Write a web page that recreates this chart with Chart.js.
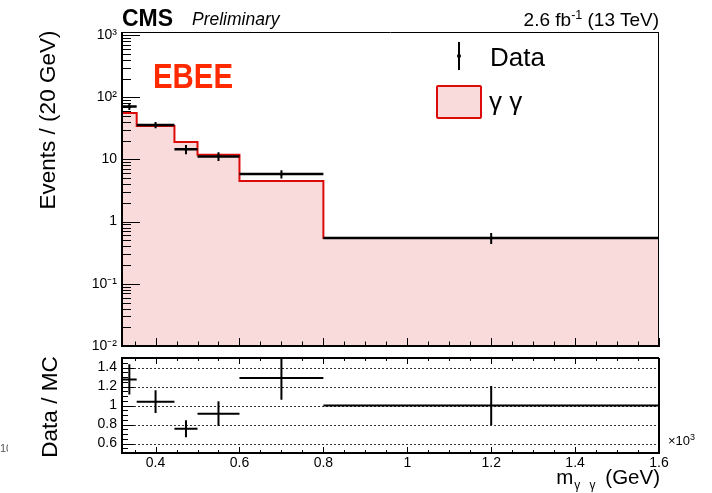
<!DOCTYPE html>
<html>
<head>
<meta charset="utf-8">
<script src="https://cdn.jsdelivr.net/npm/chart.js@4.4.1/dist/chart.umd.min.js"></script>
<style>
  html, body { margin: 0; padding: 0; background: #fff; }
  #wrap { position: relative; width: 712px; height: 493px; overflow: hidden; font-family: "Liberation Sans", Arial, sans-serif; color: #000; }
  canvas { position: absolute; left: 0; }
  .t { position: absolute; white-space: nowrap; line-height: 1; }
  .rot { position: absolute; white-space: nowrap; line-height: 1; transform: translate(-50%, -50%) rotate(-90deg); }
</style>
</head>
<body>
<div id="wrap">
  <canvas id="cMain" width="712" height="356" style="top:0"></canvas>
  <canvas id="cRatio" width="712" height="137" style="top:356px"></canvas>

  <div class="t" style="left:122px; top:7px; font-size:23px; font-weight:bold;">CMS</div>
  <div class="t" style="left:192px; top:11px; font-size:17.5px; font-style:italic;">Preliminary</div>
  <div class="t" style="right:53px; top:10px; font-size:19px;">2.6 fb<span style="font-size:12.5px; position:relative; top:-7px;">-1</span> (13 TeV)</div>

  <div class="t" style="left:153px; top:58px; font-size:35px; font-weight:bold; color:#ff2a00; transform:scaleX(0.84); transform-origin:0 0;">EBEE</div>

  <!-- legend -->
  <div style="position:absolute; left:458px; top:42px; width:2px; height:28px; background:#000;"></div>
  <div style="position:absolute; left:457px; top:54px; width:4px; height:4px; background:#000; border-radius:2px;"></div>
  <div class="t" style="left:490px; top:44px; font-size:26px;">Data</div>
  <div style="position:absolute; left:436px; top:85px; width:42px; height:30px; background:#f9dbdc; border:2px solid #dd0a0a; border-radius:2px;"></div>
  <div class="t" style="left:489px; top:88px; font-size:26px;">γ γ</div>

  <div class="rot" style="left:48px; top:120px; font-size:22.5px;">Events / (20 GeV)</div>
  <div class="rot" style="left:50px; top:407px; font-size:22.5px;">Data / MC</div>

  <div class="t" style="right:52px; top:467px; font-size:20.5px;">m<span style="font-size:12px; position:relative; top:5px; margin-left:1px; word-spacing:6px; margin-right:4px;">γ γ</span> (GeV)</div>
  <div class="t" style="left:668px; top:434px; font-size:13px;">×10<span style="font-size:9px; position:relative; top:-5px;">3</span></div>
  <div style="position:absolute; left:0; top:443px; width:8px; height:12px; overflow:hidden;"><div class="t" style="left:0; top:0; font-size:11px; color:#555;">10</div></div>
</div>

<script>
// ---------------- data ----------------
const binEdges    = [320, 355, 445, 500, 600, 800, 1600];          // GeV
const mcValues    = [56, 34.5, 19.0, 11.9, 4.5, 0.545];           // γγ MC, events / 20 GeV
const dataCenters = [337.5, 400, 472.5, 550, 700, 1200];           // GeV
const dataValues  = [71, 35.8, 14.6, 11.2, 5.82, 0.545];           // events / 20 GeV
const dataErrors  = [8.5, 4.2, 2.5, 1.8, 0.9, 0.11];
const ratioValues = [1.275, 1.04, 0.755, 0.914, 1.29, 1.0];
const ratioErrors = [0.16, 0.12, 0.09, 0.13, 0.23, 0.205];

const mainYTicks       = [0.01, 0.1, 1, 10, 100, 1000];
const mainYTickLabels  = ['10⁻²', '10⁻¹', '1', '10', '10²', '10³'];
const ratioYTicks      = [0.6, 0.8, 1.0, 1.2, 1.4];
const ratioYTickLabels = ['0.6', '0.8', '1', '1.2', '1.4'];
const xTicks           = [400, 600, 800, 1000, 1200, 1400, 1600];
const xTickLabels      = ['0.4', '0.6', '0.8', '1', '1.2', '1.4', '1.6'];

// ---------------- build library structures ----------------
const mcSteps = binEdges.map((e, i) => ({ x: e, y: mcValues[Math.min(i, mcValues.length - 1)] }));

function xErrSegments(vals) {
  const out = [];
  vals.forEach((v, i) => {
    out.push({ x: binEdges[i], y: v }, { x: binEdges[i + 1], y: v }, { x: binEdges[i + 1], y: null });
  });
  return out;
}
function yErrSegments(vals, errs) {
  const out = [];
  vals.forEach((v, i) => {
    out.push({ x: dataCenters[i], y: v - errs[i] }, { x: dataCenters[i], y: v + errs[i] }, { x: dataCenters[i], y: null });
  });
  return out;
}

const xMinor = [];
for (let v = 350; v < 1600; v += 50) if (!xTicks.includes(v)) xMinor.push(v);
const logMinor = [];
for (let e = -2; e <= 2; e++) for (let m = 2; m <= 9; m++) logMinor.push(m * Math.pow(10, e));
const ratioMinor = [];
for (let v = 0.55; v < 1.5; v += 0.05) { const r = Math.round(v * 100) / 100; if (!ratioYTicks.some(t => Math.abs(t - r) < 1e-6)) ratioMinor.push(r); }

// ---------------- ROOT-style frame / ticks plugin ----------------
const rootFrame = {
  id: 'rootFrame',
  beforeDatasetsDraw(chart, args, o) {
    if (!o.grid) return;
    const { ctx, chartArea: a } = chart; const ys = chart.scales.y;
    ctx.save(); ctx.strokeStyle = '#333'; ctx.lineWidth = 1; ctx.setLineDash([2, 2]);
    for (const v of o.grid) {
      const py = Math.round(ys.getPixelForValue(v)) + 0.5;
      ctx.beginPath(); ctx.moveTo(a.left, py); ctx.lineTo(a.right, py); ctx.stroke();
    }
    ctx.restore();
  },
  afterDatasetsDraw(chart, args, o) {
    const { ctx, chartArea: a } = chart; const xs = chart.scales.x, ys = chart.scales.y;
    ctx.save(); ctx.strokeStyle = '#000'; ctx.lineWidth = 1;
    const seg = (x1, y1, x2, y2) => { ctx.beginPath(); ctx.moveTo(x1, y1); ctx.lineTo(x2, y2); ctx.stroke(); };
    for (const [vals, len] of [[o.xMajor, o.xMajorLen], [o.xMinor, o.xMinorLen]]) {
      for (const v of vals) {
        const px = Math.round(xs.getPixelForValue(v)) + 0.5;
        seg(px, a.bottom, px, a.bottom - len);
        if (o.xTop) seg(px, a.top, px, a.top + len);
      }
    }
    for (const [vals, len] of [[o.yMajor, o.yMajorLen], [o.yMinor, o.yMinorLen]]) {
      for (const v of vals) {
        const py = Math.round(ys.getPixelForValue(v)) + 0.5;
        if (py < a.top || py > a.bottom) continue;
        seg(a.left, py, a.left + len, py);
      }
    }
    // frame
    ctx.lineWidth = o.thin ? 1 : 2;
    seg(a.left, a.top + (o.thin ? 0.5 : 0), a.right, a.top + (o.thin ? 0.5 : 0));
    seg(a.right - (o.thin ? 0.5 : 0), a.top, a.right - (o.thin ? 0.5 : 0), a.bottom);
    ctx.lineWidth = 2;
    seg(a.left, a.bottom, a.right + 1, a.bottom);
    seg(a.left, a.top - (o.thin ? 0 : 1), a.left, a.bottom + 1);
    ctx.restore();
  }
};

Chart.defaults.font.family = "'Liberation Sans', Arial, sans-serif";
Chart.defaults.color = '#000';

const tickFont = { family: "'Liberation Sans', Arial, sans-serif", size: 14 };
const fixY = s => { s.width = 122; s.paddingTop = 0; s.paddingBottom = 0; };
const fixX = s => { s.height = 40; s.paddingLeft = 0; s.paddingRight = 0; };

// ---------------- main panel ----------------
new Chart(document.getElementById('cMain'), {
  type: 'line',
  data: {
    datasets: [
      { label: 'γ γ', data: mcSteps, stepped: true, fill: 'start', backgroundColor: '#f9dbdc',
        borderColor: '#dd0a0a', borderWidth: 2, pointRadius: 0, order: 3 },
      { label: 'Data x', data: xErrSegments(dataValues), borderColor: '#000', borderWidth: 2.5,
        pointRadius: 0, spanGaps: false, order: 2 },
      { label: 'Data y', data: yErrSegments(dataValues, dataErrors), borderColor: '#000', borderWidth: 2,
        pointRadius: 0, spanGaps: false, order: 1 },
      { label: 'Data', data: dataCenters.map((c, i) => ({ x: c, y: dataValues[i] })), showLine: false,
        pointRadius: 1.5, pointBackgroundColor: '#000', pointBorderWidth: 0, order: 0 }
    ]
  },
  options: {
    responsive: false, animation: false, devicePixelRatio: 1,
    layout: { padding: { top: 32, right: 53, bottom: 10, left: 0 } },
    plugins: {
      legend: { display: false }, tooltip: { enabled: false },
      rootFrame: { xMajor: xTicks, xMinor: xMinor, xMajorLen: 8, xMinorLen: 4.5, xTop: false,
                   yMajor: mainYTicks, yMinor: logMinor, yMajorLen: 18, yMinorLen: 9, thin: true }
    },
    scales: {
      x: { type: 'linear', min: 320, max: 1600, display: false },
      y: {
        type: 'logarithmic', min: 0.01, max: 1120,
        afterBuildTicks: s => { s.ticks = mainYTicks.map(v => ({ value: v })); },
        afterFit: fixY,
        grid: { display: false, drawTicks: false }, border: { display: false },
        ticks: { padding: 5, font: tickFont, color: '#000', autoSkip: false,
                 callback: (v, i) => mainYTickLabels[i] }
      }
    }
  },
  plugins: [rootFrame]
});

// ---------------- ratio panel ----------------
new Chart(document.getElementById('cRatio'), {
  type: 'line',
  data: {
    datasets: [
      { label: 'ratio x', data: xErrSegments(ratioValues), borderColor: '#000', borderWidth: 2,
        pointRadius: 0, spanGaps: false },
      { label: 'ratio y', data: yErrSegments(ratioValues, ratioErrors), borderColor: '#000', borderWidth: 2,
        pointRadius: 0, spanGaps: false }
    ]
  },
  options: {
    responsive: false, animation: false, devicePixelRatio: 1,
    layout: { padding: { top: 2, right: 53, bottom: 0, left: 0 } },
    plugins: {
      legend: { display: false }, tooltip: { enabled: false },
      rootFrame: { grid: ratioYTicks, xMajor: xTicks, xMinor: xMinor, xMajorLen: 6, xMinorLen: 3, xTop: true,
                   yMajor: ratioYTicks, yMinor: ratioMinor, yMajorLen: 12, yMinorLen: 6, thin: false }
    },
    scales: {
      x: {
        type: 'linear', min: 320, max: 1600,
        afterBuildTicks: s => { s.ticks = xTicks.map(v => ({ value: v })); },
        afterFit: fixX,
        grid: { display: false, drawTicks: false }, border: { display: false },
        ticks: { padding: 2, font: tickFont, color: '#000', autoSkip: false, maxRotation: 0,
                 callback: (v, i) => xTickLabels[i] }
      },
      y: {
        type: 'linear', min: 0.5, max: 1.5,
        afterBuildTicks: s => { s.ticks = ratioYTicks.map(v => ({ value: v })); },
        afterFit: fixY,
        grid: { display: false, drawTicks: false }, border: { display: false },
        ticks: { padding: 5, font: tickFont, color: '#000', autoSkip: false,
                 callback: (v, i) => ratioYTickLabels[i] }
      }
    }
  },
  plugins: [rootFrame]
});
</script>
</body>
</html>
